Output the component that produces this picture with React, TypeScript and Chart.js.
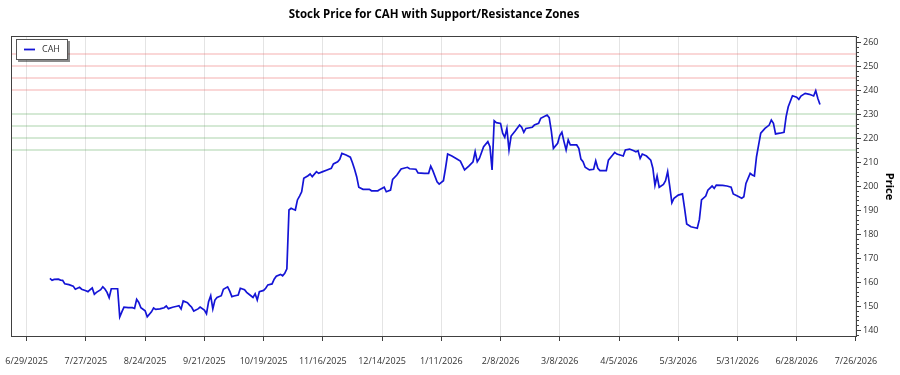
import React, { useEffect, useRef } from "react";
import { Chart, registerables } from "chart.js";

Chart.register(...registerables);

const TITLE = "Stock Price for CAH with Support/Resistance Zones";
const SERIES_NAME = "CAH";
const Y_TITLE = "Price";

const dates = [
  "2025-07-10", "2025-07-11", "2025-07-12", "2025-07-14", "2025-07-15", "2025-07-16", "2025-07-17", "2025-07-19",
  "2025-07-21", "2025-07-22", "2025-07-23", "2025-07-24", "2025-07-25", "2025-07-27", "2025-07-28", "2025-07-29",
  "2025-07-30", "2025-07-31", "2025-08-01", "2025-08-03", "2025-08-04", "2025-08-05", "2025-08-06", "2025-08-07",
  "2025-08-08", "2025-08-10", "2025-08-11", "2025-08-12", "2025-08-13", "2025-08-14", "2025-08-16", "2025-08-18",
  "2025-08-19", "2025-08-20", "2025-08-21", "2025-08-22", "2025-08-24", "2025-08-25", "2025-08-27", "2025-08-28",
  "2025-08-29", "2025-08-31", "2025-09-02", "2025-09-03", "2025-09-04", "2025-09-06", "2025-09-08", "2025-09-09",
  "2025-09-10", "2025-09-11", "2025-09-13", "2025-09-14", "2025-09-15", "2025-09-16", "2025-09-18", "2025-09-19",
  "2025-09-21", "2025-09-22", "2025-09-23", "2025-09-24", "2025-09-25", "2025-09-26", "2025-09-27", "2025-09-29",
  "2025-09-30", "2025-10-02", "2025-10-03", "2025-10-04", "2025-10-05", "2025-10-07", "2025-10-08", "2025-10-10",
  "2025-10-11", "2025-10-13", "2025-10-14", "2025-10-15", "2025-10-16", "2025-10-17", "2025-10-19", "2025-10-20",
  "2025-10-21", "2025-10-23", "2025-10-24", "2025-10-25", "2025-10-27", "2025-10-28", "2025-10-29", "2025-10-30",
  "2025-10-31", "2025-11-01", "2025-11-02", "2025-11-03", "2025-11-04", "2025-11-05", "2025-11-06", "2025-11-07",
  "2025-11-09", "2025-11-10", "2025-11-11", "2025-11-13", "2025-11-14", "2025-11-16", "2025-11-18", "2025-11-20",
  "2025-11-21", "2025-11-23", "2025-11-24", "2025-11-25", "2025-11-27", "2025-11-29", "2025-11-30", "2025-12-01",
  "2025-12-02", "2025-12-03", "2025-12-05", "2025-12-08", "2025-12-09", "2025-12-12", "2025-12-13", "2025-12-15",
  "2025-12-16", "2025-12-18", "2025-12-19", "2025-12-21", "2025-12-23", "2025-12-26", "2025-12-27", "2025-12-30",
  "2025-12-31", "2026-01-03", "2026-01-05", "2026-01-06", "2026-01-07", "2026-01-09", "2026-01-10", "2026-01-12",
  "2026-01-13", "2026-01-14", "2026-01-16", "2026-01-18", "2026-01-20", "2026-01-22", "2026-01-24", "2026-01-26",
  "2026-01-27", "2026-01-28", "2026-01-29", "2026-01-31", "2026-02-02", "2026-02-03", "2026-02-04", "2026-02-05",
  "2026-02-06", "2026-02-08", "2026-02-09", "2026-02-10", "2026-02-11", "2026-02-12", "2026-02-13", "2026-02-15",
  "2026-02-17", "2026-02-18", "2026-02-19", "2026-02-20", "2026-02-23", "2026-02-24", "2026-02-26", "2026-02-27",
  "2026-03-02", "2026-03-03", "2026-03-04", "2026-03-05", "2026-03-07", "2026-03-08", "2026-03-09", "2026-03-10",
  "2026-03-11", "2026-03-12", "2026-03-13", "2026-03-15", "2026-03-16", "2026-03-17", "2026-03-18", "2026-03-19",
  "2026-03-20", "2026-03-22", "2026-03-24", "2026-03-25", "2026-03-26", "2026-03-27", "2026-03-30", "2026-03-31",
  "2026-04-02", "2026-04-03", "2026-04-04", "2026-04-07", "2026-04-08", "2026-04-10", "2026-04-12", "2026-04-13",
  "2026-04-14", "2026-04-15", "2026-04-16", "2026-04-18", "2026-04-20", "2026-04-21", "2026-04-22", "2026-04-23",
  "2026-04-24", "2026-04-26", "2026-04-27", "2026-04-28", "2026-04-29", "2026-04-30", "2026-05-01", "2026-05-03",
  "2026-05-05", "2026-05-06", "2026-05-07", "2026-05-09", "2026-05-11", "2026-05-12", "2026-05-13", "2026-05-14",
  "2026-05-16", "2026-05-17", "2026-05-19", "2026-05-20", "2026-05-21", "2026-05-24", "2026-05-26", "2026-05-28",
  "2026-05-29", "2026-05-31", "2026-06-02", "2026-06-03", "2026-06-04", "2026-06-06", "2026-06-07", "2026-06-08",
  "2026-06-09", "2026-06-10", "2026-06-11", "2026-06-13", "2026-06-15", "2026-06-16", "2026-06-17", "2026-06-18",
  "2026-06-20", "2026-06-22", "2026-06-23", "2026-06-24", "2026-06-26", "2026-06-28", "2026-06-29", "2026-06-30",
  "2026-07-02", "2026-07-04", "2026-07-06", "2026-07-07", "2026-07-08", "2026-07-09",
];

const prices = [
  161.5, 160.7, 161.1, 161.2, 160.8, 160.7, 159.3, 158.9,
  158.3, 157.0, 157.4, 157.8, 157.0, 156.4, 156.0, 156.8,
  157.5, 154.9, 155.7, 156.8, 158.0, 157.1, 155.7, 153.5,
  157.2, 157.2, 157.2, 145.5, 147.6, 149.5, 149.3, 149.3,
  149.0, 152.8, 151.5, 149.3, 148.0, 145.5, 147.6, 149.2,
  148.6, 148.8, 149.3, 150.0, 148.9, 149.5, 149.9, 150.1,
  148.8, 152.1, 151.4, 150.4, 149.5, 147.9, 148.8, 149.6,
  148.3, 146.8, 151.8, 154.3, 148.8, 152.5, 153.6, 154.3,
  157.0, 158.0, 156.2, 153.9, 154.2, 154.6, 157.4, 156.8,
  155.7, 154.3, 153.6, 155.1, 152.5, 156.0, 156.5, 157.4,
  158.8, 159.2, 161.2, 162.4, 163.2, 162.6, 163.6, 165.5,
  190.0, 190.7, 190.3, 190.0, 194.2, 195.8, 197.6, 203.2,
  204.3, 205.0, 203.9, 206.0, 205.3, 206.0, 206.7, 207.4,
  209.2, 210.1, 211.1, 213.6, 212.9, 212.0, 209.7, 207.0,
  203.9, 199.5, 198.6, 198.6, 198.0, 198.0, 198.6, 199.5,
  197.6, 198.3, 202.8, 204.6, 207.1, 207.8, 207.2, 207.0,
  205.5, 205.3, 205.3, 208.3, 206.4, 201.8, 200.8, 202.2,
  207.4, 213.3, 212.5, 211.5, 210.4, 206.7, 208.3, 210.1,
  214.3, 210.1, 211.5, 216.4, 218.5, 216.4, 206.7, 227.2,
  226.4, 226.1, 222.0, 220.3, 224.0, 215.0, 220.8, 223.0,
  225.4, 224.5, 222.4, 224.0, 224.5, 225.4, 226.1, 228.2,
  229.6, 228.5, 223.0, 215.7, 217.8, 221.0, 222.4, 218.5,
  215.0, 219.2, 217.1, 217.1, 217.1, 215.7, 211.2, 210.1,
  207.8, 206.7, 207.0, 210.5, 207.4, 206.4, 206.4, 210.8,
  212.9, 214.0, 213.3, 212.5, 215.0, 215.4, 214.7, 214.3,
  214.7, 211.5, 213.3, 212.5, 210.8, 207.4, 200.3, 204.2,
  199.5, 200.7, 202.2, 206.0, 199.7, 193.0, 194.9, 196.2,
  196.7, 190.7, 184.2, 183.0, 182.6, 182.4, 186.1, 194.2,
  195.8, 198.3, 200.0, 199.0, 200.4, 200.3, 200.0, 199.5,
  196.7, 195.8, 194.9, 195.5, 201.1, 205.3, 204.6, 204.2,
  212.2, 217.1, 222.0, 224.0, 225.4, 227.5, 226.1, 221.7,
  222.0, 222.4, 228.9, 233.0, 237.6, 237.0, 236.1, 237.5,
  238.6, 238.2, 237.5, 239.7, 236.5, 234.0,
];

const resistanceLevels = [240, 245, 250, 255];
const supportLevels = [215, 220, 225, 230];

const xTickDates = [
  "2025-06-29", "2025-07-27", "2025-08-24", "2025-09-21", "2025-10-19", "2025-11-16", "2025-12-14", "2026-01-11",
  "2026-02-08", "2026-03-08", "2026-04-05", "2026-05-03", "2026-05-31", "2026-06-28", "2026-07-26",
];
const yTickValues = [140, 150, 160, 170, 180, 190, 200, 210, 220, 230, 240, 250, 260];

const Y_MIN = 137.1;
const Y_MAX = 262.5;

const DAY = 86400000;
const toMs = (s: string) => {
  const [y, m, d] = s.split("-").map(Number);
  return Date.UTC(y, m - 1, d);
};
const fmtDate = (v: number) => {
  const d = new Date(v);
  return `${d.getUTCMonth() + 1}/${d.getUTCDate()}/${d.getUTCFullYear()}`;
};

const X_MIN = toMs(xTickDates[0]) - 7.4 * DAY;
const X_MAX = toMs(xTickDates[xTickDates.length - 1]) + 0.5 * DAY;

const FONT = '"Open Sans", "Noto Sans", sans-serif';
const LINE_COLOR = "#1414d6";

const framePlugin = {
  id: "frameAndExtras",
  afterDraw(chart: any) {
    const { ctx, chartArea } = chart;
    const { left, top, right, bottom } = chartArea;
    ctx.save();
    // frame
    ctx.strokeStyle = "#404040";
    ctx.lineWidth = 1;
    ctx.strokeRect(Math.round(left) + 0.5, Math.round(top) + 0.5, Math.round(right - left) - 1, Math.round(bottom - top) - 1);

    // minor ticks on y axis
    const ys = chart.scales.y;
    ctx.beginPath();
    for (let v = 138; v <= 262; v += 2) {
      if (v % 10 === 0) continue;
      const py = Math.round(ys.getPixelForValue(v)) + 0.5;
      ctx.moveTo(right, py);
      ctx.lineTo(right + 2, py);
    }
    ctx.strokeStyle = "#444";
    ctx.stroke();

    // title
    ctx.fillStyle = "#000";
    ctx.font = `bold 11.5px ${FONT}`;
    ctx.textAlign = "center";
    ctx.textBaseline = "middle";
    ctx.fillText(TITLE, (left + right) / 2, 15);

    // legend box
    const bx = left + 5;
    const by = top + 3;
    const bw = 51;
    const bh = 20;
    ctx.fillStyle = "rgba(0,0,0,0.45)";
    ctx.fillRect(bx + 2, by + 2, bw + 1, bh + 1);
    ctx.fillStyle = "#fff";
    ctx.fillRect(bx, by, bw, bh);
    ctx.strokeStyle = "#555";
    ctx.strokeRect(bx + 0.5, by + 0.5, bw, bh);
    ctx.beginPath();
    ctx.moveTo(bx + 8, by + 10.5);
    ctx.lineTo(bx + 19, by + 10.5);
    ctx.strokeStyle = LINE_COLOR;
    ctx.lineWidth = 1.8;
    ctx.stroke();
    ctx.fillStyle = "#333";
    ctx.font = `9px ${FONT}`;
    ctx.textAlign = "left";
    ctx.textBaseline = "middle";
    ctx.fillText(SERIES_NAME, bx + 26, by + 10.5);
    ctx.restore();
  },
};

export default function App() {
  const ref = useRef<HTMLCanvasElement>(null);

  useEffect(() => {
    if (!ref.current) return;
    const levelDataset = (level: number, color: string, name: string) => ({
      label: `${name} ${level}`,
      data: [
        { x: X_MIN, y: level },
        { x: X_MAX, y: level },
      ],
      borderColor: color,
      borderWidth: 1.2,
      pointRadius: 0,
      order: 2,
    });

    const chart = new Chart(ref.current, {
      type: "line",
      data: {
        datasets: [
          {
            label: SERIES_NAME,
            data: dates.map((d, i) => ({ x: toMs(d), y: prices[i] })),
            borderColor: LINE_COLOR,
            borderWidth: 1.7,
            pointRadius: 0,
            tension: 0,
            order: 0,
          },
          ...resistanceLevels.map((l) => levelDataset(l, "rgba(235,110,110,0.55)", "Resistance")),
          ...supportLevels.map((l) => levelDataset(l, "rgba(90,170,90,0.5)", "Support")),
        ] as any,
      },
      options: {
        responsive: false,
        maintainAspectRatio: false,
        animation: false,
        devicePixelRatio: 1,
        layout: { padding: { left: 11, top: 36, right: 0, bottom: 0 } },
        plugins: {
          legend: { display: false },
          title: { display: false },
          tooltip: { enabled: false },
        },
        scales: {
          x: {
            type: "linear",
            min: X_MIN,
            max: X_MAX,
            afterBuildTicks: (s: any) => {
              s.ticks = xTickDates.map((d) => ({ value: toMs(d) }));
            },
            afterFit: (s: any) => {
              s.height = 38;
              s.paddingLeft = 0;
              s.paddingRight = 0;
            },
            ticks: {
              callback: (v: any) => fmtDate(Number(v)),
              autoSkip: false,
              maxRotation: 0,
              padding: 15,
              color: "#333",
              font: { family: FONT, size: 9 },
            },
            grid: {
              color: "#e4e4e4",
              tickColor: "#404040",
              tickLength: 4,
              drawOnChartArea: true,
            },
            border: { display: false },
          },
          y: {
            type: "linear",
            position: "right",
            min: Y_MIN,
            max: Y_MAX,
            afterBuildTicks: (s: any) => {
              s.ticks = yTickValues.map((v) => ({ value: v }));
            },
            afterFit: (s: any) => {
              s.width = 43;
              s.paddingTop = 0;
              s.paddingBottom = 0;
            },
            ticks: {
              padding: 2,
              color: "#333",
              font: { family: FONT, size: 9 },
            },
            grid: {
              drawOnChartArea: false,
              tickColor: "#404040",
              tickLength: 4,
            },
            border: { display: false },
            title: {
              display: true,
              text: Y_TITLE,
              color: "#000",
              font: { family: FONT, size: 11, weight: "bold" },
              padding: { top: 4, bottom: 0 },
            },
          },
        },
      },
      plugins: [framePlugin],
    } as any);
    return () => chart.destroy();
  }, []);

  return (
    <div style={{ position: "absolute", left: 0, top: 0, width: 900, height: 375, background: "#fff" }}>
      <canvas ref={ref} width={900} height={375} style={{ display: "block", width: 900, height: 375 }} />
    </div>
  );
}
